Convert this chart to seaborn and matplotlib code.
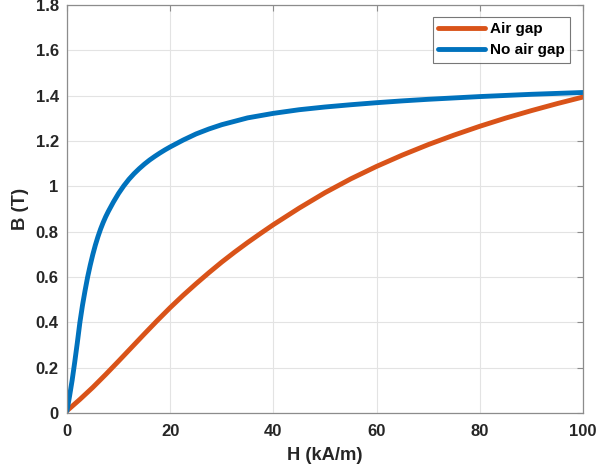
import matplotlib
matplotlib.use("Agg")
import matplotlib.pyplot as plt
import seaborn as sns
import pandas as pd

# Data
h_no_gap = [0, 0.5, 1, 1.5, 2, 2.5, 3, 3.5, 4, 4.5, 5, 5.5, 6, 6.5, 7, 7.5, 8, 9, 10,
            11, 12, 13, 14, 15, 16, 17, 18, 19, 20, 22.5, 25, 27.5, 30, 35, 40, 45,
            50, 55, 60, 65, 70, 75, 80, 85, 90, 95, 100]
b_no_gap = [0.01, 0.075, 0.145, 0.225, 0.31, 0.40, 0.475, 0.54, 0.60, 0.652, 0.699,
            0.741, 0.778, 0.811, 0.840, 0.866, 0.889, 0.931, 0.969, 1.002, 1.031,
            1.056, 1.078, 1.098, 1.116, 1.132, 1.147, 1.161, 1.174, 1.204, 1.231,
            1.253, 1.272, 1.302, 1.322, 1.338, 1.35, 1.36, 1.369, 1.377, 1.384, 1.39,
            1.396, 1.401, 1.406, 1.41, 1.414]

h_air_gap = [0, 2.5, 5, 7.5, 10, 12.5, 15, 17.5, 20, 22.5, 25, 27.5, 30, 32.5, 35,
             37.5, 40, 45, 50, 55, 60, 65, 70, 75, 80, 85, 90, 95, 100]
b_air_gap = [0.01, 0.06, 0.113, 0.17, 0.229, 0.289, 0.349, 0.408, 0.465, 0.519,
             0.570, 0.619, 0.666, 0.710, 0.752, 0.792, 0.831, 0.904, 0.972, 1.033,
             1.088, 1.138, 1.184, 1.226, 1.265, 1.301, 1.334, 1.365, 1.394]

series_labels = ["Air gap", "No air gap"]
x_ticks = [0, 20, 40, 60, 80, 100]
y_ticks = [0, 0.2, 0.4, 0.6, 0.8, 1.0, 1.2, 1.4, 1.6, 1.8]
y_tick_labels = ["0", "0.2", "0.4", "0.6", "0.8", "1", "1.2", "1.4", "1.6", "1.8"]

df = pd.concat([
    pd.DataFrame({"H": h_air_gap, "B": b_air_gap, "series": series_labels[0]}),
    pd.DataFrame({"H": h_no_gap, "B": b_no_gap, "series": series_labels[1]}),
], ignore_index=True)

sns.set_style("white")
plt.rcParams["font.family"] = ["Liberation Sans", "DejaVu Sans"]

fig = plt.figure(figsize=(5.97, 4.73), dpi=100)
ax = fig.add_axes([67/597, 1 - 413/473, (583-67)/597, (413-5)/473])

palette = {"Air gap": "#D95319", "No air gap": "#0072BD"}
sns.lineplot(data=df, x="H", y="B", hue="series", palette=palette, ax=ax,
             linewidth=3.5, sort=False, estimator=None)
for ln in ax.get_lines():
    ln.set_solid_joinstyle("round")
    ln.set_solid_capstyle("round")

ax.set_xlim(0, 100)
ax.set_ylim(0, 1.8)
ax.set_xticks(x_ticks)
ax.set_xticklabels([str(t) for t in x_ticks])
ax.set_yticks(y_ticks)
ax.set_yticklabels(y_tick_labels)

ax.grid(True, color="#e3e3e3", linewidth=0.8)
ax.set_axisbelow(True)
for s in ax.spines.values():
    s.set_color("#8c8c8c")
    s.set_linewidth(0.9)
    s.set_visible(True)

ax.tick_params(axis="both", which="both", direction="in", length=4, width=0.8,
               color="#8c8c8c", top=True, right=True, labelsize=12,
               labelcolor="#262626")
ax.tick_params(axis="x", pad=8)
ax.tick_params(axis="y", pad=6)
for lab in ax.get_xticklabels() + ax.get_yticklabels():
    lab.set_fontweight("bold")

ax.set_xlabel("H (kA/m)", fontsize=13.2, fontweight="bold", color="#262626", labelpad=6)
ax.set_ylabel("B (T)", fontsize=13.2, fontweight="bold", color="#262626", labelpad=5)

leg = ax.legend(loc="upper right", bbox_to_anchor=(0.9748, 0.9706), frameon=True,
                fancybox=False, handlelength=3.1, borderpad=0.35, labelspacing=0.45,
                handletextpad=0.3, borderaxespad=0.0,
                prop={"weight": "bold", "size": 11})
leg.get_frame().set_edgecolor("#555555")
leg.get_frame().set_linewidth(0.8)
leg.set_title(None)
for t in leg.get_texts():
    t.set_color("#000000")

fig.savefig("out.png", dpi=100)
